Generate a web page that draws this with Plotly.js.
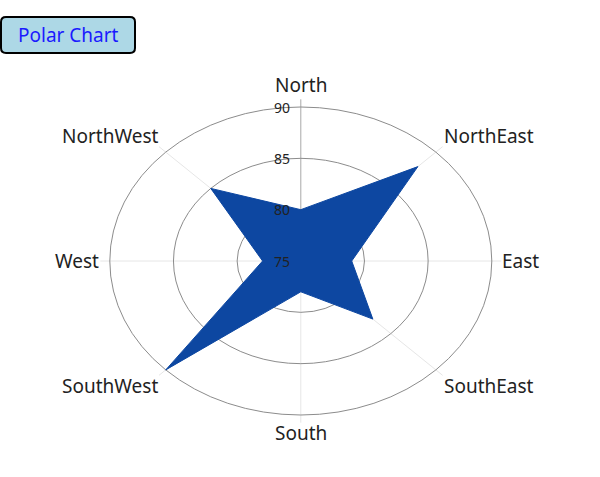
<!DOCTYPE html>
<html>
<head>
<meta charset="utf-8">
<script src="https://cdn.plot.ly/plotly-3.0.1.min.js"></script>
<style>html,body{margin:0;padding:0;background:#fff;}#chart{width:600px;height:477px;}</style>
</head>
<body>
<div id="chart"></div>
<script>
// ---- data ----
const directions = ['North', 'NorthEast', 'East', 'SouthEast', 'South', 'SouthWest', 'West', 'NorthWest'];
const values = [80, 88, 79, 83, 78, 90, 78, 85];
const radialTicks = [75, 80, 85, 90];
const radialRange = [75, 90];
const chartTitle = 'Polar Chart';

// ---- geometry helpers (elliptical polar frame drawn on cartesian axes) ----
const W = 600, H = 477;
const cx = 300.8, cy = 261;           // pixel centre
const pxX = 191 / 15, pxY = 154 / 15;  // pixels per radial unit
const rMin = radialRange[0], rMax = radialRange[1];
const spokeLen = (rMax - rMin) + 0.75;
function ang(i) { return (90 - 45 * i) * Math.PI / 180; }

const xs = values.map((v, i) => (v - rMin) * Math.cos(ang(i)));
const ys = values.map((v, i) => (v - rMin) * Math.sin(ang(i)));
xs.push(xs[0]); ys.push(ys[0]);

const shapes = [];
// spokes
directions.forEach((d, i) => {
  shapes.push({
    type: 'line', xref: 'x', yref: 'y', layer: 'below',
    x0: 0, y0: 0, x1: spokeLen * Math.cos(ang(i)), y1: spokeLen * Math.sin(ang(i)),
    line: { color: i === 0 ? '#a8a8a8' : '#e6e6e6', width: 1 }
  });
});
// grid ellipses
radialTicks.filter(t => t > rMin).forEach(t => {
  const R = t - rMin;
  shapes.push({
    type: 'circle', xref: 'x', yref: 'y', layer: 'below',
    x0: -R, x1: R, y0: -R, y1: R,
    line: { color: '#8c8c8c', width: 1 }
  });
});
// rounded title box
function px2p(x, y) { return (x / W).toFixed(5) + ',' + (1 - y / H).toFixed(5); }
const bx0 = 1, by0 = 17, bx1 = 135, by1 = 53, rr = 5;
const path = 'M ' + px2p(bx0 + rr, by0) + ' L ' + px2p(bx1 - rr, by0) +
  ' Q ' + px2p(bx1, by0) + ' ' + px2p(bx1, by0 + rr) +
  ' L ' + px2p(bx1, by1 - rr) + ' Q ' + px2p(bx1, by1) + ' ' + px2p(bx1 - rr, by1) +
  ' L ' + px2p(bx0 + rr, by1) + ' Q ' + px2p(bx0, by1) + ' ' + px2p(bx0, by1 - rr) +
  ' L ' + px2p(bx0, by0 + rr) + ' Q ' + px2p(bx0, by0) + ' ' + px2p(bx0 + rr, by0) + ' Z';
shapes.push({ type: 'path', xref: 'paper', yref: 'paper', path: path,
  fillcolor: '#ADD8E6', line: { color: '#000000', width: 2 } });

const font = 'Noto Sans, Open Sans, sans-serif';
const annotations = [];
const anchors = [
  ['center', 'bottom', 0], ['left', 'bottom', -3], ['left', 'middle', 0], ['left', 'top', 3],
  ['center', 'top', 4], ['right', 'top', 3], ['right', 'middle', 0], ['right', 'bottom', -3]
];
directions.forEach((d, i) => {
  annotations.push({
    x: spokeLen * Math.cos(ang(i)), y: spokeLen * Math.sin(ang(i)),
    xref: 'x', yref: 'y', text: d, showarrow: false, borderpad: 0,
    xanchor: anchors[i][0], yanchor: anchors[i][1], yshift: anchors[i][2],
    font: { family: font, size: 19, color: '#222222' }
  });
});
radialTicks.forEach(t => {
  annotations.push({
    x: -19 / pxX, y: t - rMin, xref: 'x', yref: 'y', text: String(t), showarrow: false,
    xanchor: 'center', yanchor: 'middle', borderpad: 0,
    font: { family: font, size: 14, color: '#222222' }
  });
});
annotations.push({
  x: (bx0 + bx1) / 2 / W, y: 1 - (by0 + by1) / 2 / H, xref: 'paper', yref: 'paper',
  text: chartTitle, showarrow: false, xanchor: 'center', yanchor: 'middle',
  font: { family: font, size: 19, color: '#1a1aff' }
});

const trace = {
  type: 'scatter', mode: 'lines', x: xs, y: ys, fill: 'toself',
  fillcolor: '#0D47A1', line: { color: '#0D47A1', width: 1 },
  hoverinfo: 'skip', showlegend: false
};

const layout = {
  width: W, height: H, autosize: false,
  margin: { l: 0, r: 0, t: 0, b: 0, pad: 0 },
  paper_bgcolor: '#ffffff', plot_bgcolor: '#ffffff',
  xaxis: { range: [-cx / pxX, (W - cx) / pxX], visible: false, fixedrange: true },
  yaxis: { range: [-(H - cy) / pxY, cy / pxY], visible: false, fixedrange: true },
  shapes: shapes, annotations: annotations, showlegend: false
};

Plotly.newPlot('chart', [trace], layout, { displayModeBar: false, staticPlot: true });
</script>
</body>
</html>
